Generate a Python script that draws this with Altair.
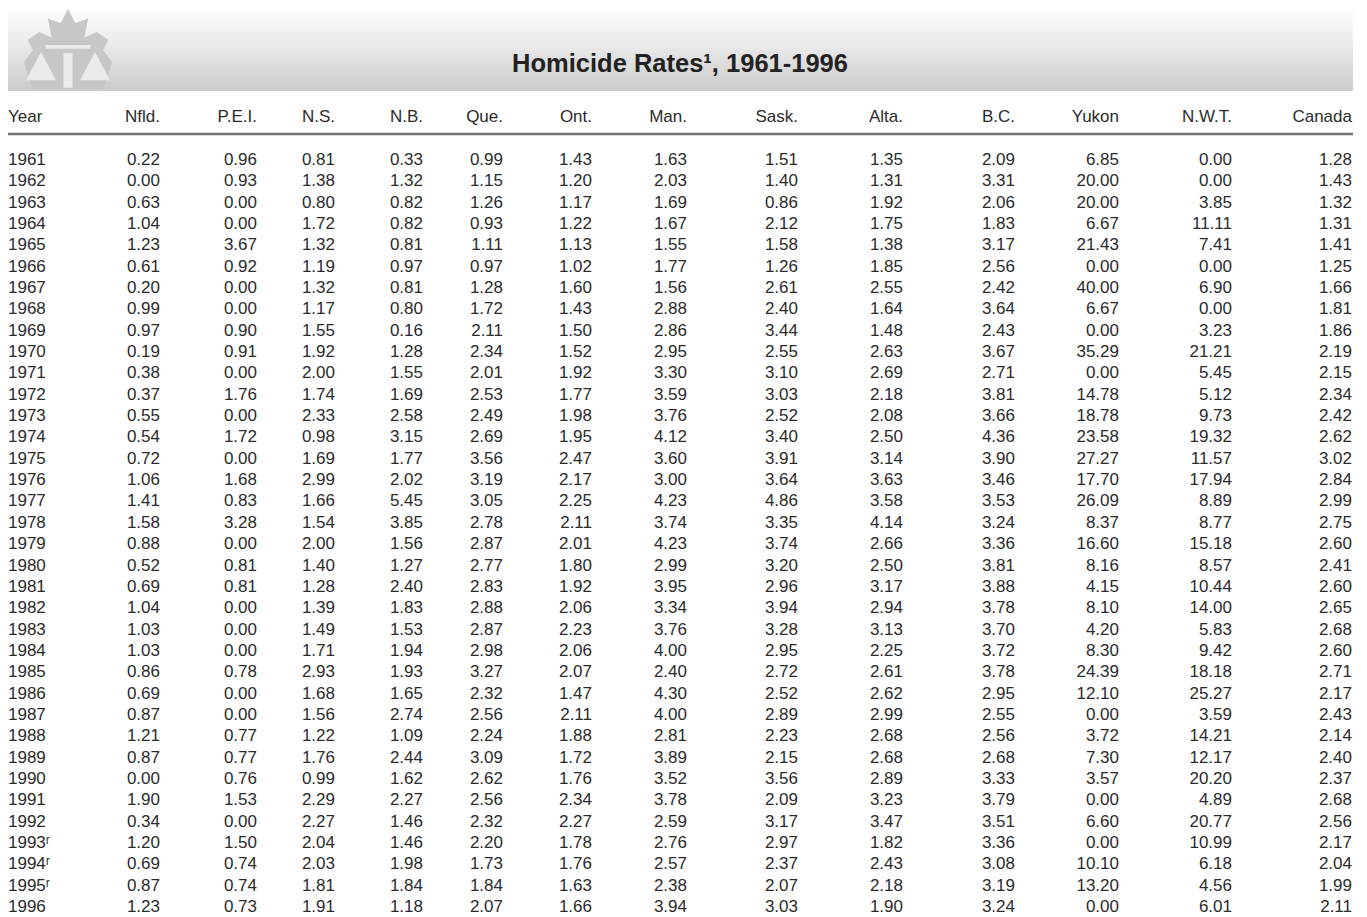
import altair as alt
import pandas as pd

# ---------------- data ----------------
year_labels = ["1961", "1962", "1963", "1964", "1965", "1966", "1967", "1968", "1969", "1970",
               "1971", "1972", "1973", "1974", "1975", "1976", "1977", "1978", "1979", "1980",
               "1981", "1982", "1983", "1984", "1985", "1986", "1987", "1988", "1989", "1990",
               "1991", "1992", "1993ʳ", "1994ʳ", "1995ʳ", "1996"]

columns = ["Nfld.", "P.E.I.", "N.S.", "N.B.", "Que.", "Ont.", "Man.", "Sask.", "Alta.",
           "B.C.", "Yukon", "N.W.T.", "Canada"]

nfld = [0.22, 0.00, 0.63, 1.04, 1.23, 0.61, 0.20, 0.99, 0.97, 0.19, 0.38, 0.37, 0.55, 0.54, 0.72,
        1.06, 1.41, 1.58, 0.88, 0.52, 0.69, 1.04, 1.03, 1.03, 0.86, 0.69, 0.87, 1.21, 0.87, 0.00,
        1.90, 0.34, 1.20, 0.69, 0.87, 1.23]
pei = [0.96, 0.93, 0.00, 0.00, 3.67, 0.92, 0.00, 0.00, 0.90, 0.91, 0.00, 1.76, 0.00, 1.72, 0.00,
       1.68, 0.83, 3.28, 0.00, 0.81, 0.81, 0.00, 0.00, 0.00, 0.78, 0.00, 0.00, 0.77, 0.77, 0.76,
       1.53, 0.00, 1.50, 0.74, 0.74, 0.73]
ns = [0.81, 1.38, 0.80, 1.72, 1.32, 1.19, 1.32, 1.17, 1.55, 1.92, 2.00, 1.74, 2.33, 0.98, 1.69,
      2.99, 1.66, 1.54, 2.00, 1.40, 1.28, 1.39, 1.49, 1.71, 2.93, 1.68, 1.56, 1.22, 1.76, 0.99,
      2.29, 2.27, 2.04, 2.03, 1.81, 1.91]
nb = [0.33, 1.32, 0.82, 0.82, 0.81, 0.97, 0.81, 0.80, 0.16, 1.28, 1.55, 1.69, 2.58, 3.15, 1.77,
      2.02, 5.45, 3.85, 1.56, 1.27, 2.40, 1.83, 1.53, 1.94, 1.93, 1.65, 2.74, 1.09, 2.44, 1.62,
      2.27, 1.46, 1.46, 1.98, 1.84, 1.18]
que = [0.99, 1.15, 1.26, 0.93, 1.11, 0.97, 1.28, 1.72, 2.11, 2.34, 2.01, 2.53, 2.49, 2.69, 3.56,
       3.19, 3.05, 2.78, 2.87, 2.77, 2.83, 2.88, 2.87, 2.98, 3.27, 2.32, 2.56, 2.24, 3.09, 2.62,
       2.56, 2.32, 2.20, 1.73, 1.84, 2.07]
ont = [1.43, 1.20, 1.17, 1.22, 1.13, 1.02, 1.60, 1.43, 1.50, 1.52, 1.92, 1.77, 1.98, 1.95, 2.47,
       2.17, 2.25, 2.11, 2.01, 1.80, 1.92, 2.06, 2.23, 2.06, 2.07, 1.47, 2.11, 1.88, 1.72, 1.76,
       2.34, 2.27, 1.78, 1.76, 1.63, 1.66]
man = [1.63, 2.03, 1.69, 1.67, 1.55, 1.77, 1.56, 2.88, 2.86, 2.95, 3.30, 3.59, 3.76, 4.12, 3.60,
       3.00, 4.23, 3.74, 4.23, 2.99, 3.95, 3.34, 3.76, 4.00, 2.40, 4.30, 4.00, 2.81, 3.89, 3.52,
       3.78, 2.59, 2.76, 2.57, 2.38, 3.94]
sask = [1.51, 1.40, 0.86, 2.12, 1.58, 1.26, 2.61, 2.40, 3.44, 2.55, 3.10, 3.03, 2.52, 3.40, 3.91,
        3.64, 4.86, 3.35, 3.74, 3.20, 2.96, 3.94, 3.28, 2.95, 2.72, 2.52, 2.89, 2.23, 2.15, 3.56,
        2.09, 3.17, 2.97, 2.37, 2.07, 3.03]
alta = [1.35, 1.31, 1.92, 1.75, 1.38, 1.85, 2.55, 1.64, 1.48, 2.63, 2.69, 2.18, 2.08, 2.50, 3.14,
        3.63, 3.58, 4.14, 2.66, 2.50, 3.17, 2.94, 3.13, 2.25, 2.61, 2.62, 2.99, 2.68, 2.68, 2.89,
        3.23, 3.47, 1.82, 2.43, 2.18, 1.90]
bc = [2.09, 3.31, 2.06, 1.83, 3.17, 2.56, 2.42, 3.64, 2.43, 3.67, 2.71, 3.81, 3.66, 4.36, 3.90,
      3.46, 3.53, 3.24, 3.36, 3.81, 3.88, 3.78, 3.70, 3.72, 3.78, 2.95, 2.55, 2.56, 2.68, 3.33,
      3.79, 3.51, 3.36, 3.08, 3.19, 3.24]
yukon = [6.85, 20.00, 20.00, 6.67, 21.43, 0.00, 40.00, 6.67, 0.00, 35.29, 0.00, 14.78, 18.78,
         23.58, 27.27, 17.70, 26.09, 8.37, 16.60, 8.16, 4.15, 8.10, 4.20, 8.30, 24.39, 12.10,
         0.00, 3.72, 7.30, 3.57, 0.00, 6.60, 0.00, 10.10, 13.20, 0.00]
nwt = [0.00, 0.00, 3.85, 11.11, 7.41, 0.00, 6.90, 0.00, 3.23, 21.21, 5.45, 5.12, 9.73, 19.32,
       11.57, 17.94, 8.89, 8.77, 15.18, 8.57, 10.44, 14.00, 5.83, 9.42, 18.18, 25.27, 3.59, 14.21,
       12.17, 20.20, 4.89, 20.77, 10.99, 6.18, 4.56, 6.01]
canada = [1.28, 1.43, 1.32, 1.31, 1.41, 1.25, 1.66, 1.81, 1.86, 2.19, 2.15, 2.34, 2.42, 2.62, 3.02,
          2.84, 2.99, 2.75, 2.60, 2.41, 2.60, 2.65, 2.68, 2.60, 2.71, 2.17, 2.43, 2.14, 2.40, 2.37,
          2.68, 2.56, 2.17, 2.04, 1.99, 2.11]

series = [nfld, pei, ns, nb, que, ont, man, sask, alta, bc, yukon, nwt, canada]
title_text = "Homicide Rates¹, 1961-1996"
first_header = "Year"

# ---------------- tables built from the lists ----------------
rows = []
for ci, (name, vals) in enumerate(zip(columns, series), start=1):
    for yl, v in zip(year_labels, vals):
        rows.append({"year": yl, "col": name, "ci": ci, "value": v})
df_vals = pd.DataFrame(rows)
df_years = pd.DataFrame({"year": year_labels, "ci": [0] * len(year_labels)})
df_hdr = pd.DataFrame({"col": columns, "ci": list(range(1, len(columns) + 1))})
df_hdr0 = pd.DataFrame({"col": [first_header], "ci": [0]})
one = alt.Data(values=[{"k": 0}])

# ---------------- styling ----------------
W, H = 1345, 909
FONT = "Liberation Sans"
TXT = "#2b2b2b"
FS = 17
col_positions = [0, 152, 249, 327, 415, 495, 584, 679, 790, 895, 1007, 1111, 1224, 1344]

xs = alt.Scale(domain=list(range(len(col_positions))), range=col_positions, nice=False, zero=False)
ys = alt.Scale(type="point", domain=year_labels, range=[157, 904], padding=0)
X = alt.X("ci:Q", scale=xs, axis=None)
Y = alt.Y("year:O", scale=ys, axis=None)

band = alt.Chart(one).mark_rect(
    fill=alt.LinearGradient(
        gradient="linear",
        stops=[alt.GradientStop(color="#fdfdfd", offset=0),
               alt.GradientStop(color="#e9e9e9", offset=0.45),
               alt.GradientStop(color="#cbcbcb", offset=1)],
        x1=0, x2=0, y1=0, y2=1),
    strokeWidth=0,
).encode(x=alt.value(-1), x2=alt.value(W), y=alt.value(2), y2=alt.value(83))

leaf_path = ("M0,-0.91 L0.16,-0.6 L0.45,-0.7 L0.36,-0.27 L0.64,-0.4 L0.9,-0.22 L0.78,0 "
             "L0.98,0.27 L0.78,0.89 L0.09,0.89 L-0.09,0.89 L-0.78,0.89 L-0.98,0.27 L-0.78,0 "
             "L-0.9,-0.22 L-0.64,-0.4 L-0.36,-0.27 L-0.45,-0.7 L-0.16,-0.6 Z")
scales_path = ("M-0.6,0.04 L-0.93,0.67 L-0.27,0.67 Z "
               "M0.6,0.04 L0.27,0.67 L0.93,0.67 Z "
               "M-0.1,0.07 L0.1,0.07 L0.1,0.84 L-0.1,0.84 Z "
               "M-0.5,-0.11 L0.5,-0.11 L0.5,-0.03 L-0.5,-0.03 Z")

leaf = alt.Chart(one).mark_point(
    shape=leaf_path, filled=True, fill="#c7c7c7", opacity=1, strokeWidth=0, size=8100
).encode(x=alt.value(60), y=alt.value(42))
scales_mark = alt.Chart(one).mark_point(
    shape=scales_path, filled=True, fill="#ebebeb", opacity=1, strokeWidth=0, size=8100
).encode(x=alt.value(60), y=alt.value(42))

title = alt.Chart(one).mark_text(
    text=title_text, font=FONT, fontSize=25.5, fontWeight="bold", color="#222222",
    align="center", baseline="alphabetic"
).encode(x=alt.value(672), y=alt.value(64))

rule = alt.Chart(one).mark_rule(color="#707070", strokeWidth=2.5).encode(
    x=alt.value(-1), x2=alt.value(W), y=alt.value(126))

hdr = alt.Chart(df_hdr).mark_text(
    font=FONT, fontSize=FS, color=TXT, align="right", baseline="alphabetic"
).encode(x=X, y=alt.value(114), text="col:N")
hdr0 = alt.Chart(df_hdr0).mark_text(
    font=FONT, fontSize=FS, color=TXT, align="left", baseline="alphabetic"
).encode(x=X, y=alt.value(114), text="col:N")

years_txt = alt.Chart(df_years).mark_text(
    font=FONT, fontSize=FS, color=TXT, align="left", baseline="alphabetic"
).encode(x=X, y=Y, text="year:N")

vals_txt = alt.Chart(df_vals).mark_text(
    font=FONT, fontSize=FS, color=TXT, align="right", baseline="alphabetic"
).encode(x=X, y=Y, text=alt.Text("value:Q", format=".2f"))

chart = alt.layer(band, leaf, scales_mark, title, rule, hdr, hdr0, years_txt, vals_txt).properties(
    width=W, height=H, padding=0, autosize=alt.AutoSizeParams(type="none")
).configure_view(stroke=None)

chart.save("out.html", embed_options={"renderer": "svg", "actions": False})
